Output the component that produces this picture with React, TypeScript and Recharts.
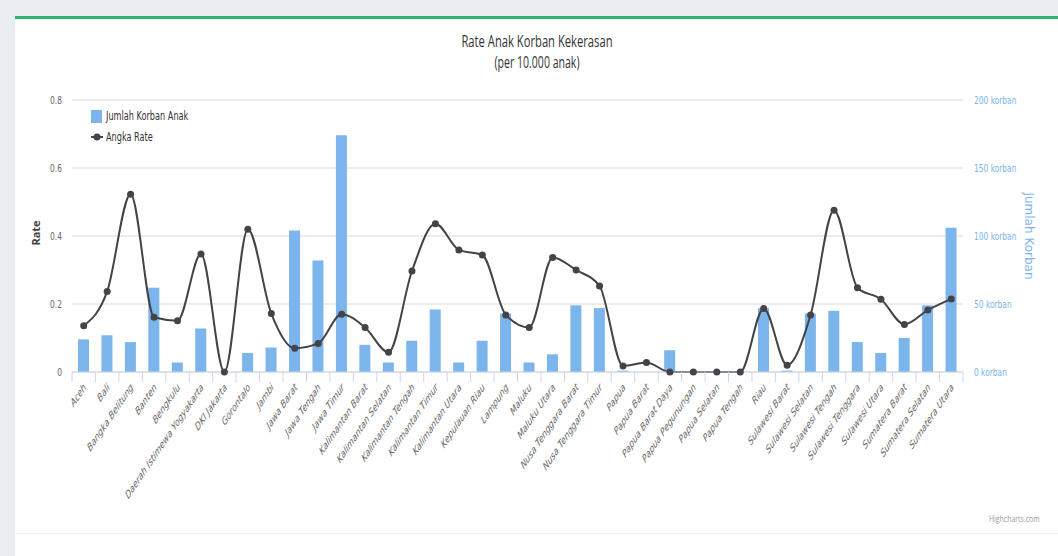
import { ComposedChart, Bar, Line, XAxis, YAxis, CartesianGrid } from "recharts";

const provinsi = [
  "Aceh", "Bali", "Bangka Belitung", "Banten", "Bengkulu", "Daerah Istimewa Yogyakarta",
  "DKI Jakarta", "Gorontalo", "Jambi", "Jawa Barat", "Jawa Tengah", "Jawa Timur",
  "Kalimantan Barat", "Kalimantan Selatan", "Kalimantan Tengah", "Kalimantan Timur",
  "Kalimantan Utara", "Kepulauan Riau", "Lampung", "Maluku", "Maluku Utara",
  "Nusa Tenggara Barat", "Nusa Tenggara Timur", "Papua", "Papua Barat", "Papua Barat Daya",
  "Papua Pegunungan", "Papua Selatan", "Papua Tengah", "Riau", "Sulawesi Barat",
  "Sulawesi Selatan", "Sulawesi Tengah", "Sulawesi Tenggara", "Sulawesi Utara",
  "Sumatera Barat", "Sumatera Selatan", "Sumatera Utara",
];

const jumlahKorban = [
  24, 27, 22, 62, 7, 32, 0, 14, 18, 104, 82, 174, 20, 7, 23, 46, 7, 23, 43, 7,
  13, 49, 47, 1, 0, 16, 0, 0, 0, 47, 1, 43, 45, 22, 14, 25, 49, 106,
];

const angkaRate = [
  0.136, 0.237, 0.523, 0.161, 0.151, 0.347, 0, 0.42, 0.172, 0.07, 0.084, 0.17, 0.131,
  0.058, 0.297, 0.436, 0.359, 0.344, 0.168, 0.131, 0.337, 0.3, 0.253, 0.018, 0.028,
  0, 0, 0, 0, 0.187, 0.02, 0.168, 0.476, 0.248, 0.214, 0.14, 0.182, 0.215,
];

const rateTicks = [0, 0.2, 0.4, 0.6, 0.8];
const korbanTicks = [0, 50, 100, 150, 200];

const data = provinsi.map((name, i) => ({
  name,
  korban: jumlahKorban[i],
  rate: angkaRate[i],
}));

// the reference screenshot is squeezed horizontally, so text gets the same squeeze
const SQ = 0.68;
const SANS = "'Open Sans', sans-serif";
const WIDE = "'DejaVu Sans', sans-serif";
const BAR_COLOR = "#7cb5ec";
const LINE_COLOR = "#434348";

const PLOT_LEFT = 72;
const PLOT_RIGHT = 963;
const BAND = (PLOT_RIGHT - PLOT_LEFT) / provinsi.length;

function XTick(props: any) {
  const { x, y, payload, index } = props;
  const tx = x + 3;
  const ty = y + 16;
  return (
    <g>
      <line x1={x - BAND / 2} x2={x - BAND / 2} y1={y} y2={y + 10} stroke="#ccd6eb" />
      {index === provinsi.length - 1 && (
        <line x1={x + BAND / 2} x2={x + BAND / 2} y1={y} y2={y + 10} stroke="#ccd6eb" />
      )}
      <text
        transform={`translate(${tx}, ${ty}) scale(${SQ}, 1) rotate(-45)`}
        textAnchor="end"
        fontStyle="italic"
        fontSize={11}
        fill="#666"
        fontFamily={WIDE}
      >
        {payload.value}
      </text>
    </g>
  );
}

function RateTick(props: any) {
  const { x, y, payload } = props;
  return (
    <text transform={`translate(${x}, ${y}) scale(${SQ}, 1)`} dy="0.35em" textAnchor="end" fontSize={11} fill="#666" fontFamily={WIDE}>
      {String(payload.value)}
    </text>
  );
}

function KorbanTick(props: any) {
  const { x, y, payload } = props;
  return (
    <text transform={`translate(${x}, ${y}) scale(${SQ}, 1)`} dy="0.35em" textAnchor="start" fontSize={11} fill={BAR_COLOR} fontFamily={WIDE}>
      {`${payload.value} korban`}
    </text>
  );
}

export default function App() {
  return (
    <div style={{ position: "fixed", left: 0, top: 0, width: 1058, height: 556, background: "#eaedf1", overflow: "hidden" }}>
      <div style={{ position: "absolute", left: 15, top: 16, right: 0, bottom: 0, background: "#fff", borderTop: "3px solid #2db36b" }} />
      <div style={{ position: "absolute", left: 15, right: 0, top: 533, height: 1, background: "#eef0f3" }} />

      <div style={{ position: "absolute", left: 0, width: 1074, top: 30, textAlign: "center", fontFamily: SANS, color: "#333", transform: `scaleX(${SQ})` }}>
        <div style={{ fontSize: 16.5, lineHeight: "22px" }}>Rate Anak Korban Kekerasan</div>
        <div style={{ fontSize: 15.5, lineHeight: "20px" }}>(per 10.000 anak)</div>
      </div>

      <div style={{ position: "absolute", left: 91, top: 108, fontFamily: WIDE, fontSize: 12, color: "#333" }}>
        <div style={{ display: "flex", alignItems: "center", height: 16 }}>
          <span style={{ width: 11, height: 13, background: BAR_COLOR, marginRight: 4, display: "inline-block" }} />
          <span style={{ display: "inline-block", transform: `scaleX(${SQ})`, transformOrigin: "left center" }}>Jumlah Korban Anak</span>
        </div>
        <div style={{ display: "flex", alignItems: "center", height: 16, marginTop: 5 }}>
          <svg width={12} height={12} style={{ marginRight: 3 }}>
            <line x1={0} x2={12} y1={6} y2={6} stroke={LINE_COLOR} strokeWidth={2} />
            <circle cx={6} cy={6} r={3.5} fill={LINE_COLOR} />
          </svg>
          <span style={{ display: "inline-block", transform: `scaleX(${SQ})`, transformOrigin: "left center" }}>Angka Rate</span>
        </div>
      </div>

      <div style={{ position: "absolute", left: 989, top: 512, fontFamily: SANS, fontSize: 9, color: "#999", transform: "scaleX(0.77)", transformOrigin: "left center" }}>
        Highcharts.com
      </div>

      <ComposedChart
        width={1058}
        height={556}
        data={data}
        margin={{ top: 100, right: 15, bottom: 34, left: 12 }}
        style={{ position: "absolute", left: 0, top: 0 }}
      >
        <CartesianGrid vertical={false} stroke="#e6e6e6" strokeWidth={1.5} yAxisId="rate" />
        <XAxis
          dataKey="name"
          interval={0}
          height={150}
          stroke="#ccd6eb"
          tickLine={false}
          tickSize={0}
          tickMargin={0}
          tick={<XTick />}
        />
        <YAxis
          yAxisId="rate"
          width={60}
          domain={[0, 0.8]}
          ticks={rateTicks}
          axisLine={false}
          tickLine={false}
          tickSize={6}
          tickMargin={4}
          tick={<RateTick />}
          label={{
            content: () => (
              <text x={40} y={233} transform="rotate(-90, 40, 233)" textAnchor="middle" fontSize={11} fontWeight="bold" fill="#444" fontFamily={SANS}>
                Rate
              </text>
            ),
          }}
        />
        <YAxis
          yAxisId="korban"
          orientation="right"
          width={80}
          domain={[0, 200]}
          ticks={korbanTicks}
          axisLine={false}
          tickLine={false}
          tickSize={6}
          tickMargin={5}
          tick={<KorbanTick />}
          label={{
            content: () => (
              <text x={1025} y={236} transform="rotate(90, 1025, 236)" textAnchor="middle" fontSize={12} fill={BAR_COLOR} fontFamily={WIDE}>
                Jumlah Korban
              </text>
            ),
          }}
        />
        <Bar yAxisId="korban" dataKey="korban" fill={BAR_COLOR} barSize={11} isAnimationActive={false} />
        <Line
          yAxisId="rate"
          type="monotone"
          dataKey="rate"
          stroke={LINE_COLOR}
          strokeWidth={2}
          dot={{ r: 3.5, fill: LINE_COLOR, stroke: LINE_COLOR, strokeWidth: 0 }}
          activeDot={false}
          isAnimationActive={false}
        />
      </ComposedChart>
    </div>
  );
}
